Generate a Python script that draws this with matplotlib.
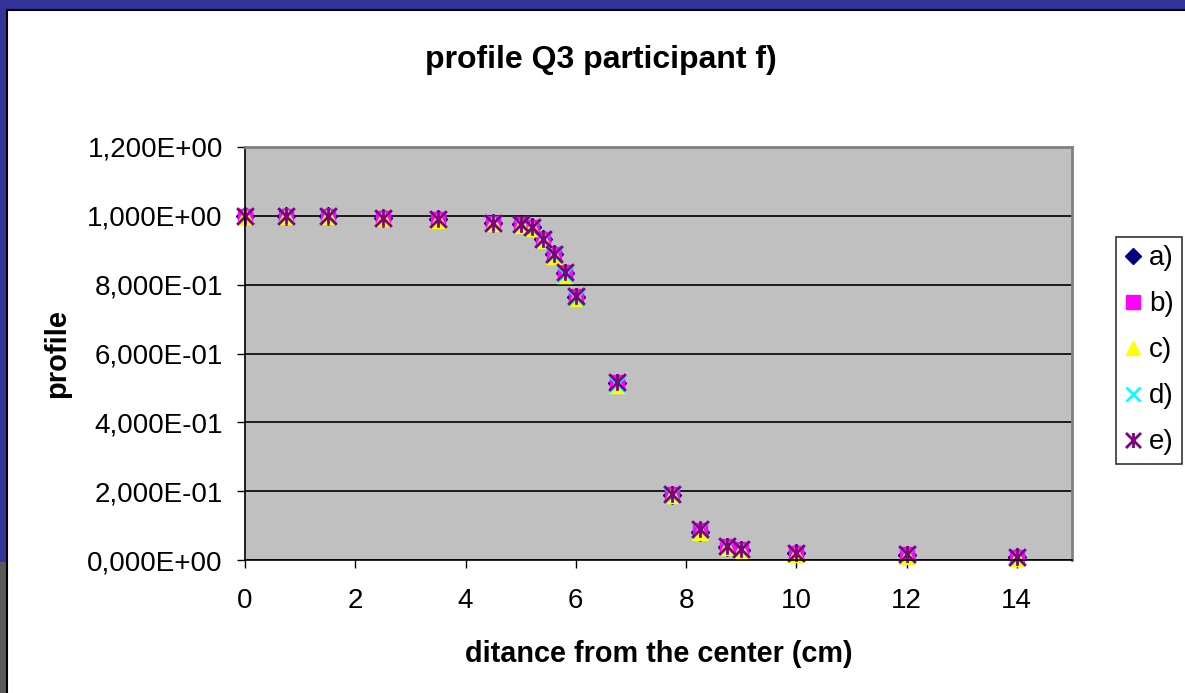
import matplotlib
matplotlib.use("Agg")
import matplotlib.pyplot as plt
from matplotlib.patches import Rectangle
from matplotlib.path import Path
from matplotlib.ticker import FuncFormatter

plt.rcParams['font.family'] = ['Liberation Sans', 'DejaVu Sans']

# distance from the center (cm)
dist = [0, 0.75, 1.5, 2.5, 3.5, 4.5, 5.0, 5.2, 5.4, 5.6, 5.8, 6.0,
        6.75, 7.75, 8.25, 8.75, 9.0, 10, 12, 14]

prof_a = [1.0, 1.0, 1.0, 0.995, 0.99, 0.98, 0.975, 0.967, 0.932, 0.888, 0.833, 0.765,
          0.513, 0.19, 0.08, 0.038, 0.03, 0.02, 0.015, 0.008]
prof_b = [1.0, 1.0, 1.0, 0.995, 0.99, 0.98, 0.975, 0.968, 0.934, 0.89, 0.836, 0.768,
          0.516, 0.192, 0.088, 0.04, 0.032, 0.02, 0.016, 0.009]
prof_c = [0.999, 0.999, 0.999, 0.994, 0.989, 0.979, 0.973, 0.965, 0.929, 0.884, 0.829, 0.761,
          0.509, 0.188, 0.082, 0.037, 0.03, 0.016, 0.013, 0.007]
prof_d = [1.0, 1.0, 1.0, 0.995, 0.99, 0.98, 0.974, 0.966, 0.93, 0.886, 0.83, 0.762,
          0.512, 0.19, 0.087, 0.039, 0.031, 0.019, 0.015, 0.008]
prof_e = [1.0, 1.0, 1.0, 0.995, 0.99, 0.98, 0.975, 0.968, 0.934, 0.89, 0.836, 0.768,
          0.518, 0.192, 0.09, 0.04, 0.032, 0.02, 0.016, 0.009]

labels = ['a)', 'b)', 'c)', 'd)', 'e)']
yticks = [0, 0.2, 0.4, 0.6, 0.8, 1.0, 1.2]

# excel style star marker: an x with a vertical bar
star = Path([(-1, -1), (1, 1), (-1, 1), (1, -1), (0, -1), (0, 1)],
            [Path.MOVETO, Path.LINETO, Path.MOVETO, Path.LINETO, Path.MOVETO, Path.LINETO])

fig = plt.figure(figsize=(11.85, 6.93), dpi=100)
fig.patch.set_facecolor('white')

# slide background bits round the chart
fig.patches.append(Rectangle((0, 1 - 10 / 693), 1, 10 / 693, transform=fig.transFigure,
                             facecolor='#333399', edgecolor='none', zorder=-1))
fig.patches.append(Rectangle((0, 131 / 693), 7 / 1185, 1, transform=fig.transFigure,
                             facecolor='#333399', edgecolor='none', zorder=-1))
fig.patches.append(Rectangle((0, 0), 7 / 1185, 131 / 693, transform=fig.transFigure,
                             facecolor='#5a5a5a', edgecolor='none', zorder=-1))
fig.patches.append(Rectangle((7 / 1185, -0.01), 1.02, 1 - 10 / 693 + 0.01, transform=fig.transFigure,
                             facecolor='white', edgecolor='black', linewidth=1.5, zorder=-1))

ax = fig.add_axes([245 / 1185, 1 - 560 / 693, (1072 - 245) / 1185, (560 - 147) / 693])
ax.set_facecolor('#C0C0C0')

ax.plot(dist, prof_a, linestyle='', marker='D', ms=9, color='#000080', label=labels[0], clip_on=False)
ax.plot(dist, prof_b, linestyle='', marker='s', ms=10.5, color='#FF00FF', label=labels[1], clip_on=False)
ax.plot(dist, prof_c, linestyle='', marker='^', ms=11, color='#FFFF00', label=labels[2], clip_on=False)
ax.plot(dist, prof_d, linestyle='', marker='x', ms=11, mew=1.8, color='#00FFFF', label=labels[3], clip_on=False)
ax.plot(dist, prof_e, linestyle='', marker=star, ms=12, mew=2, color='#800080',
        markerfacecolor='none', label=labels[4], clip_on=False)

ax.set_xlim(0, 15)
ax.set_ylim(0, 1.2)
ax.set_xticks(range(0, 15, 2))
ax.set_yticks(yticks)
ax.yaxis.set_major_formatter(FuncFormatter(lambda v, p: f"{v:.3E}".replace('.', ',')))
ax.grid(True, axis='y', color='black', linewidth=1.2)
ax.set_axisbelow(True)

ax.tick_params(axis='both', direction='out', length=6, width=1, labelsize=20, colors='black')
ax.tick_params(axis='y', pad=10)
ax.tick_params(axis='x', pad=14)
for s in ['left', 'bottom']:
    ax.spines[s].set_color('black')
    ax.spines[s].set_linewidth(1.2)
for s in ['top', 'right']:
    ax.spines[s].set_color('#808080')
    ax.spines[s].set_linewidth(2)

ax.set_xlabel('ditance from the center (cm)', fontsize=20.8, fontweight='bold', labelpad=19)
ax.set_ylabel('profile', fontsize=21, fontweight='bold', labelpad=12)
fig.text(601 / 1185, 1 - 60 / 693, 'profile Q3 participant f)', fontsize=23,
         fontweight='bold', ha='center', va='center')

leg = ax.legend(loc='upper left', bbox_to_anchor=(1116 / 1185, 1 - 237 / 693),
                bbox_transform=fig.transFigure, fontsize=20, frameon=True, fancybox=False,
                edgecolor='black', markerscale=0.9, handlelength=0.6, handletextpad=0.3,
                labelspacing=0.72, borderpad=0.3, borderaxespad=0)
leg.get_frame().set_linewidth(1.2)

fig.savefig('out.png', dpi=100)
